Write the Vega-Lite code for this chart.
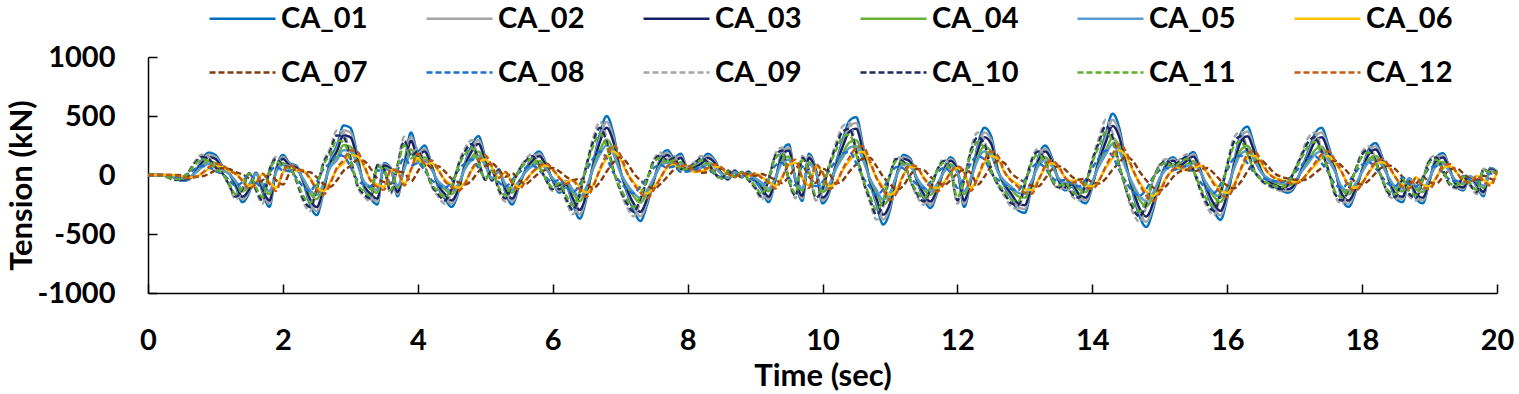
{
"$schema":"https://vega.github.io/schema/vega-lite/v6.json",
"autosize":{"type":"none"},
"width":1349,"height":236,
"padding":{"left":148,"top":57,"right":22,"bottom":101},
"background":"white",
"config":{"view":{"stroke":null}},
"data":{"values":[
{"t":0,"CA_01":0,"CA_02":0,"CA_03":0,"CA_04":0,"CA_05":0,"CA_06":0,"CA_07":0,"CA_08":0,"CA_09":0,"CA_10":0,"CA_11":0,"CA_12":0},
{"t":0.1,"CA_01":0,"CA_02":0,"CA_03":0,"CA_04":0,"CA_05":0,"CA_06":0,"CA_07":0,"CA_08":0,"CA_09":0,"CA_10":0,"CA_11":0,"CA_12":0},
{"t":0.2,"CA_01":0,"CA_02":0,"CA_03":0,"CA_04":0,"CA_05":0,"CA_06":0,"CA_07":0,"CA_08":-2,"CA_09":-5,"CA_10":-4,"CA_11":-4,"CA_12":0},
{"t":0.3,"CA_01":-5,"CA_02":-5,"CA_03":-4,"CA_04":-3,"CA_05":-3,"CA_06":0,"CA_07":0,"CA_08":-10,"CA_09":-23,"CA_10":-20,"CA_11":-18,"CA_12":0},
{"t":0.4,"CA_01":-25,"CA_02":-23,"CA_03":-20,"CA_04":-15,"CA_05":-13,"CA_06":-2,"CA_07":0,"CA_08":-20,"CA_09":-45,"CA_10":-40,"CA_11":-35,"CA_12":-3},
{"t":0.5,"CA_01":-50,"CA_02":-45,"CA_03":-40,"CA_04":-30,"CA_05":-25,"CA_06":-10,"CA_07":-2,"CA_08":-16,"CA_09":-36,"CA_10":-32,"CA_11":-28,"CA_12":-13},
{"t":0.6,"CA_01":-40,"CA_02":-36,"CA_03":-32,"CA_04":-24,"CA_05":-20,"CA_06":-20,"CA_07":-8,"CA_08":12,"CA_09":27,"CA_10":24,"CA_11":21,"CA_12":-25},
{"t":0.7,"CA_01":30,"CA_02":27,"CA_03":24,"CA_04":18,"CA_05":15,"CA_06":-16,"CA_07":-15,"CA_08":52,"CA_09":117,"CA_10":104,"CA_11":91,"CA_12":-20},
{"t":0.8,"CA_01":130,"CA_02":117,"CA_03":104,"CA_04":78,"CA_05":65,"CA_06":12,"CA_07":-12,"CA_08":76,"CA_09":171,"CA_10":152,"CA_11":133,"CA_12":15},
{"t":0.9,"CA_01":190,"CA_02":171,"CA_03":152,"CA_04":114,"CA_05":95,"CA_06":52,"CA_07":9,"CA_08":68,"CA_09":153,"CA_10":136,"CA_11":119,"CA_12":65},
{"t":1,"CA_01":170,"CA_02":153,"CA_03":136,"CA_04":102,"CA_05":85,"CA_06":76,"CA_07":39,"CA_08":32,"CA_09":72,"CA_10":64,"CA_11":56,"CA_12":95},
{"t":1.1,"CA_01":80,"CA_02":72,"CA_03":64,"CA_04":48,"CA_05":40,"CA_06":68,"CA_07":57,"CA_08":8,"CA_09":18,"CA_10":16,"CA_11":14,"CA_12":85},
{"t":1.2,"CA_01":20,"CA_02":18,"CA_03":16,"CA_04":12,"CA_05":10,"CA_06":32,"CA_07":51,"CA_08":-40,"CA_09":-90,"CA_10":-80,"CA_11":-70,"CA_12":40},
{"t":1.3,"CA_01":-100,"CA_02":-90,"CA_03":-80,"CA_04":-60,"CA_05":-50,"CA_06":8,"CA_07":24,"CA_08":-92,"CA_09":-207,"CA_10":-184,"CA_11":-161,"CA_12":10},
{"t":1.4,"CA_01":-230,"CA_02":-207,"CA_03":-184,"CA_04":-138,"CA_05":-115,"CA_06":-40,"CA_07":6,"CA_08":-60,"CA_09":-135,"CA_10":-120,"CA_11":-105,"CA_12":-50},
{"t":1.5,"CA_01":-150,"CA_02":-135,"CA_03":-120,"CA_04":-90,"CA_05":-75,"CA_06":-92,"CA_07":-30,"CA_08":8,"CA_09":18,"CA_10":16,"CA_11":14,"CA_12":-115},
{"t":1.6,"CA_01":20,"CA_02":18,"CA_03":16,"CA_04":12,"CA_05":10,"CA_06":-60,"CA_07":-69,"CA_08":-60,"CA_09":-135,"CA_10":-120,"CA_11":-105,"CA_12":-75},
{"t":1.7,"CA_01":-150,"CA_02":-135,"CA_03":-120,"CA_04":-90,"CA_05":-75,"CA_06":8,"CA_07":-45,"CA_08":-108,"CA_09":-243,"CA_10":-216,"CA_11":-189,"CA_12":10},
{"t":1.8,"CA_01":-270,"CA_02":-243,"CA_03":-216,"CA_04":-162,"CA_05":-135,"CA_06":-60,"CA_07":6,"CA_08":20,"CA_09":45,"CA_10":40,"CA_11":35,"CA_12":-75},
{"t":1.9,"CA_01":50,"CA_02":45,"CA_03":40,"CA_04":30,"CA_05":25,"CA_06":-108,"CA_07":-45,"CA_08":68,"CA_09":153,"CA_10":136,"CA_11":119,"CA_12":-135},
{"t":2,"CA_01":170,"CA_02":153,"CA_03":136,"CA_04":102,"CA_05":85,"CA_06":20,"CA_07":-81,"CA_08":40,"CA_09":90,"CA_10":80,"CA_11":70,"CA_12":25},
{"t":2.1,"CA_01":100,"CA_02":90,"CA_03":80,"CA_04":60,"CA_05":50,"CA_06":68,"CA_07":15,"CA_08":32,"CA_09":72,"CA_10":64,"CA_11":56,"CA_12":85},
{"t":2.2,"CA_01":80,"CA_02":72,"CA_03":64,"CA_04":48,"CA_05":40,"CA_06":40,"CA_07":51,"CA_08":-24,"CA_09":-54,"CA_10":-48,"CA_11":-42,"CA_12":50},
{"t":2.3,"CA_01":-60,"CA_02":-54,"CA_03":-48,"CA_04":-36,"CA_05":-30,"CA_06":32,"CA_07":30,"CA_08":-100,"CA_09":-225,"CA_10":-200,"CA_11":-175,"CA_12":40},
{"t":2.4,"CA_01":-250,"CA_02":-225,"CA_03":-200,"CA_04":-150,"CA_05":-125,"CA_06":-24,"CA_07":24,"CA_08":-136,"CA_09":-306,"CA_10":-272,"CA_11":-238,"CA_12":-30},
{"t":2.5,"CA_01":-340,"CA_02":-306,"CA_03":-272,"CA_04":-204,"CA_05":-170,"CA_06":-100,"CA_07":-18,"CA_08":-60,"CA_09":-135,"CA_10":-120,"CA_11":-105,"CA_12":-125},
{"t":2.6,"CA_01":-150,"CA_02":-135,"CA_03":-120,"CA_04":-90,"CA_05":-75,"CA_06":-136,"CA_07":-75,"CA_08":48,"CA_09":108,"CA_10":96,"CA_11":84,"CA_12":-170},
{"t":2.7,"CA_01":120,"CA_02":108,"CA_03":96,"CA_04":72,"CA_05":60,"CA_06":-60,"CA_07":-102,"CA_08":100,"CA_09":225,"CA_10":200,"CA_11":175,"CA_12":-75},
{"t":2.8,"CA_01":250,"CA_02":225,"CA_03":200,"CA_04":150,"CA_05":125,"CA_06":48,"CA_07":-45,"CA_08":168,"CA_09":378,"CA_10":336,"CA_11":294,"CA_12":60},
{"t":2.9,"CA_01":420,"CA_02":378,"CA_03":336,"CA_04":252,"CA_05":210,"CA_06":100,"CA_07":36,"CA_08":160,"CA_09":360,"CA_10":320,"CA_11":280,"CA_12":125},
{"t":3,"CA_01":400,"CA_02":360,"CA_03":320,"CA_04":240,"CA_05":200,"CA_06":168,"CA_07":75,"CA_08":72,"CA_09":162,"CA_10":144,"CA_11":126,"CA_12":210},
{"t":3.1,"CA_01":180,"CA_02":162,"CA_03":144,"CA_04":108,"CA_05":90,"CA_06":160,"CA_07":126,"CA_08":-40,"CA_09":-90,"CA_10":-80,"CA_11":-70,"CA_12":200},
{"t":3.2,"CA_01":-100,"CA_02":-90,"CA_03":-80,"CA_04":-60,"CA_05":-50,"CA_06":72,"CA_07":120,"CA_08":-80,"CA_09":-180,"CA_10":-160,"CA_11":-140,"CA_12":90},
{"t":3.3,"CA_01":-200,"CA_02":-180,"CA_03":-160,"CA_04":-120,"CA_05":-100,"CA_06":-40,"CA_07":54,"CA_08":-100,"CA_09":-225,"CA_10":-200,"CA_11":-175,"CA_12":-50},
{"t":3.4,"CA_01":-250,"CA_02":-225,"CA_03":-200,"CA_04":-150,"CA_05":-125,"CA_06":-80,"CA_07":-30,"CA_08":40,"CA_09":90,"CA_10":80,"CA_11":70,"CA_12":-100},
{"t":3.5,"CA_01":100,"CA_02":90,"CA_03":80,"CA_04":60,"CA_05":50,"CA_06":-100,"CA_07":-60,"CA_08":24,"CA_09":54,"CA_10":48,"CA_11":42,"CA_12":-125},
{"t":3.6,"CA_01":60,"CA_02":54,"CA_03":48,"CA_04":36,"CA_05":30,"CA_06":40,"CA_07":-75,"CA_08":-72,"CA_09":-162,"CA_10":-144,"CA_11":-126,"CA_12":50},
{"t":3.7,"CA_01":-180,"CA_02":-162,"CA_03":-144,"CA_04":-108,"CA_05":-90,"CA_06":24,"CA_07":30,"CA_08":40,"CA_09":90,"CA_10":80,"CA_11":70,"CA_12":30},
{"t":3.8,"CA_01":100,"CA_02":90,"CA_03":80,"CA_04":60,"CA_05":50,"CA_06":-72,"CA_07":18,"CA_08":144,"CA_09":324,"CA_10":288,"CA_11":252,"CA_12":-90},
{"t":3.9,"CA_01":360,"CA_02":324,"CA_03":288,"CA_04":216,"CA_05":180,"CA_06":40,"CA_07":-54,"CA_08":80,"CA_09":180,"CA_10":160,"CA_11":140,"CA_12":50},
{"t":4,"CA_01":200,"CA_02":180,"CA_03":160,"CA_04":120,"CA_05":100,"CA_06":144,"CA_07":30,"CA_08":100,"CA_09":225,"CA_10":200,"CA_11":175,"CA_12":180},
{"t":4.1,"CA_01":250,"CA_02":225,"CA_03":200,"CA_04":150,"CA_05":125,"CA_06":80,"CA_07":108,"CA_08":40,"CA_09":90,"CA_10":80,"CA_11":70,"CA_12":100},
{"t":4.2,"CA_01":100,"CA_02":90,"CA_03":80,"CA_04":60,"CA_05":50,"CA_06":100,"CA_07":60,"CA_08":-40,"CA_09":-90,"CA_10":-80,"CA_11":-70,"CA_12":125},
{"t":4.3,"CA_01":-100,"CA_02":-90,"CA_03":-80,"CA_04":-60,"CA_05":-50,"CA_06":40,"CA_07":75,"CA_08":-80,"CA_09":-180,"CA_10":-160,"CA_11":-140,"CA_12":50},
{"t":4.4,"CA_01":-200,"CA_02":-180,"CA_03":-160,"CA_04":-120,"CA_05":-100,"CA_06":-40,"CA_07":30,"CA_08":-108,"CA_09":-243,"CA_10":-216,"CA_11":-189,"CA_12":-50},
{"t":4.5,"CA_01":-270,"CA_02":-243,"CA_03":-216,"CA_04":-162,"CA_05":-135,"CA_06":-80,"CA_07":-30,"CA_08":-60,"CA_09":-135,"CA_10":-120,"CA_11":-105,"CA_12":-100},
{"t":4.6,"CA_01":-150,"CA_02":-135,"CA_03":-120,"CA_04":-90,"CA_05":-75,"CA_06":-108,"CA_07":-60,"CA_08":40,"CA_09":90,"CA_10":80,"CA_11":70,"CA_12":-135},
{"t":4.7,"CA_01":100,"CA_02":90,"CA_03":80,"CA_04":60,"CA_05":50,"CA_06":-60,"CA_07":-81,"CA_08":100,"CA_09":225,"CA_10":200,"CA_11":175,"CA_12":-75},
{"t":4.8,"CA_01":250,"CA_02":225,"CA_03":200,"CA_04":150,"CA_05":125,"CA_06":40,"CA_07":-45,"CA_08":132,"CA_09":297,"CA_10":264,"CA_11":231,"CA_12":50},
{"t":4.9,"CA_01":330,"CA_02":297,"CA_03":264,"CA_04":198,"CA_05":165,"CA_06":100,"CA_07":30,"CA_08":60,"CA_09":135,"CA_10":120,"CA_11":105,"CA_12":125},
{"t":5,"CA_01":150,"CA_02":135,"CA_03":120,"CA_04":90,"CA_05":75,"CA_06":132,"CA_07":75,"CA_08":-20,"CA_09":-45,"CA_10":-40,"CA_11":-35,"CA_12":165},
{"t":5.1,"CA_01":-50,"CA_02":-45,"CA_03":-40,"CA_04":-30,"CA_05":-25,"CA_06":60,"CA_07":99,"CA_08":20,"CA_09":45,"CA_10":40,"CA_11":35,"CA_12":75},
{"t":5.2,"CA_01":50,"CA_02":45,"CA_03":40,"CA_04":30,"CA_05":25,"CA_06":-20,"CA_07":45,"CA_08":-60,"CA_09":-135,"CA_10":-120,"CA_11":-105,"CA_12":-25},
{"t":5.3,"CA_01":-150,"CA_02":-135,"CA_03":-120,"CA_04":-90,"CA_05":-75,"CA_06":20,"CA_07":-15,"CA_08":-100,"CA_09":-225,"CA_10":-200,"CA_11":-175,"CA_12":25},
{"t":5.4,"CA_01":-250,"CA_02":-225,"CA_03":-200,"CA_04":-150,"CA_05":-125,"CA_06":-60,"CA_07":15,"CA_08":-40,"CA_09":-90,"CA_10":-80,"CA_11":-70,"CA_12":-75},
{"t":5.5,"CA_01":-100,"CA_02":-90,"CA_03":-80,"CA_04":-60,"CA_05":-50,"CA_06":-100,"CA_07":-45,"CA_08":20,"CA_09":45,"CA_10":40,"CA_11":35,"CA_12":-125},
{"t":5.6,"CA_01":50,"CA_02":45,"CA_03":40,"CA_04":30,"CA_05":25,"CA_06":-40,"CA_07":-75,"CA_08":60,"CA_09":135,"CA_10":120,"CA_11":105,"CA_12":-50},
{"t":5.7,"CA_01":150,"CA_02":135,"CA_03":120,"CA_04":90,"CA_05":75,"CA_06":20,"CA_07":-30,"CA_08":80,"CA_09":180,"CA_10":160,"CA_11":140,"CA_12":25},
{"t":5.8,"CA_01":200,"CA_02":180,"CA_03":160,"CA_04":120,"CA_05":100,"CA_06":60,"CA_07":15,"CA_08":40,"CA_09":90,"CA_10":80,"CA_11":70,"CA_12":75},
{"t":5.9,"CA_01":100,"CA_02":90,"CA_03":80,"CA_04":60,"CA_05":50,"CA_06":80,"CA_07":45,"CA_08":-20,"CA_09":-45,"CA_10":-40,"CA_11":-35,"CA_12":100},
{"t":6,"CA_01":-50,"CA_02":-45,"CA_03":-40,"CA_04":-30,"CA_05":-25,"CA_06":40,"CA_07":60,"CA_08":-60,"CA_09":-135,"CA_10":-120,"CA_11":-105,"CA_12":50},
{"t":6.1,"CA_01":-150,"CA_02":-135,"CA_03":-120,"CA_04":-90,"CA_05":-75,"CA_06":-20,"CA_07":30,"CA_08":-40,"CA_09":-90,"CA_10":-80,"CA_11":-70,"CA_12":-25},
{"t":6.2,"CA_01":-100,"CA_02":-90,"CA_03":-80,"CA_04":-60,"CA_05":-50,"CA_06":-60,"CA_07":-15,"CA_08":-100,"CA_09":-225,"CA_10":-200,"CA_11":-175,"CA_12":-75},
{"t":6.3,"CA_01":-250,"CA_02":-225,"CA_03":-200,"CA_04":-150,"CA_05":-125,"CA_06":-40,"CA_07":-45,"CA_08":-148,"CA_09":-333,"CA_10":-296,"CA_11":-259,"CA_12":-50},
{"t":6.4,"CA_01":-370,"CA_02":-333,"CA_03":-296,"CA_04":-222,"CA_05":-185,"CA_06":-100,"CA_07":-30,"CA_08":-80,"CA_09":-180,"CA_10":-160,"CA_11":-140,"CA_12":-125},
{"t":6.5,"CA_01":-200,"CA_02":-180,"CA_03":-160,"CA_04":-120,"CA_05":-100,"CA_06":-148,"CA_07":-75,"CA_08":40,"CA_09":90,"CA_10":80,"CA_11":70,"CA_12":-185},
{"t":6.6,"CA_01":100,"CA_02":90,"CA_03":80,"CA_04":60,"CA_05":50,"CA_06":-80,"CA_07":-111,"CA_08":140,"CA_09":315,"CA_10":280,"CA_11":245,"CA_12":-100},
{"t":6.7,"CA_01":350,"CA_02":315,"CA_03":280,"CA_04":210,"CA_05":175,"CA_06":40,"CA_07":-60,"CA_08":200,"CA_09":450,"CA_10":400,"CA_11":350,"CA_12":50},
{"t":6.8,"CA_01":500,"CA_02":450,"CA_03":400,"CA_04":300,"CA_05":250,"CA_06":140,"CA_07":30,"CA_08":140,"CA_09":315,"CA_10":280,"CA_11":245,"CA_12":175},
{"t":6.9,"CA_01":350,"CA_02":315,"CA_03":280,"CA_04":210,"CA_05":175,"CA_06":200,"CA_07":105,"CA_08":20,"CA_09":45,"CA_10":40,"CA_11":35,"CA_12":250},
{"t":7,"CA_01":50,"CA_02":45,"CA_03":40,"CA_04":30,"CA_05":25,"CA_06":140,"CA_07":150,"CA_08":-60,"CA_09":-135,"CA_10":-120,"CA_11":-105,"CA_12":175},
{"t":7.1,"CA_01":-150,"CA_02":-135,"CA_03":-120,"CA_04":-90,"CA_05":-75,"CA_06":20,"CA_07":105,"CA_08":-120,"CA_09":-270,"CA_10":-240,"CA_11":-210,"CA_12":25},
{"t":7.2,"CA_01":-300,"CA_02":-270,"CA_03":-240,"CA_04":-180,"CA_05":-150,"CA_06":-60,"CA_07":15,"CA_08":-156,"CA_09":-351,"CA_10":-312,"CA_11":-273,"CA_12":-75},
{"t":7.3,"CA_01":-390,"CA_02":-351,"CA_03":-312,"CA_04":-234,"CA_05":-195,"CA_06":-120,"CA_07":-45,"CA_08":-100,"CA_09":-225,"CA_10":-200,"CA_11":-175,"CA_12":-150},
{"t":7.4,"CA_01":-250,"CA_02":-225,"CA_03":-200,"CA_04":-150,"CA_05":-125,"CA_06":-156,"CA_07":-90,"CA_08":-20,"CA_09":-45,"CA_10":-40,"CA_11":-35,"CA_12":-195},
{"t":7.5,"CA_01":-50,"CA_02":-45,"CA_03":-40,"CA_04":-30,"CA_05":-25,"CA_06":-100,"CA_07":-117,"CA_08":60,"CA_09":135,"CA_10":120,"CA_11":105,"CA_12":-125},
{"t":7.6,"CA_01":150,"CA_02":135,"CA_03":120,"CA_04":90,"CA_05":75,"CA_06":-20,"CA_07":-75,"CA_08":84,"CA_09":189,"CA_10":168,"CA_11":147,"CA_12":-25},
{"t":7.7,"CA_01":210,"CA_02":189,"CA_03":168,"CA_04":126,"CA_05":105,"CA_06":60,"CA_07":-15,"CA_08":60,"CA_09":135,"CA_10":120,"CA_11":105,"CA_12":75},
{"t":7.8,"CA_01":150,"CA_02":135,"CA_03":120,"CA_04":90,"CA_05":75,"CA_06":84,"CA_07":45,"CA_08":72,"CA_09":162,"CA_10":144,"CA_11":126,"CA_12":105},
{"t":7.9,"CA_01":180,"CA_02":162,"CA_03":144,"CA_04":108,"CA_05":90,"CA_06":60,"CA_07":63,"CA_08":24,"CA_09":54,"CA_10":48,"CA_11":42,"CA_12":75},
{"t":8,"CA_01":60,"CA_02":54,"CA_03":48,"CA_04":36,"CA_05":30,"CA_06":72,"CA_07":45,"CA_08":32,"CA_09":72,"CA_10":64,"CA_11":56,"CA_12":90},
{"t":8.1,"CA_01":80,"CA_02":72,"CA_03":64,"CA_04":48,"CA_05":40,"CA_06":24,"CA_07":54,"CA_08":48,"CA_09":108,"CA_10":96,"CA_11":84,"CA_12":30},
{"t":8.2,"CA_01":120,"CA_02":108,"CA_03":96,"CA_04":72,"CA_05":60,"CA_06":32,"CA_07":18,"CA_08":72,"CA_09":162,"CA_10":144,"CA_11":126,"CA_12":40},
{"t":8.3,"CA_01":180,"CA_02":162,"CA_03":144,"CA_04":108,"CA_05":90,"CA_06":48,"CA_07":24,"CA_08":52,"CA_09":117,"CA_10":104,"CA_11":91,"CA_12":60},
{"t":8.4,"CA_01":130,"CA_02":117,"CA_03":104,"CA_04":78,"CA_05":65,"CA_06":72,"CA_07":36,"CA_08":8,"CA_09":18,"CA_10":16,"CA_11":14,"CA_12":90},
{"t":8.5,"CA_01":20,"CA_02":18,"CA_03":16,"CA_04":12,"CA_05":10,"CA_06":52,"CA_07":54,"CA_08":-16,"CA_09":-36,"CA_10":-32,"CA_11":-28,"CA_12":65},
{"t":8.6,"CA_01":-40,"CA_02":-36,"CA_03":-32,"CA_04":-24,"CA_05":-20,"CA_06":8,"CA_07":39,"CA_08":16,"CA_09":36,"CA_10":32,"CA_11":28,"CA_12":10},
{"t":8.7,"CA_01":40,"CA_02":36,"CA_03":32,"CA_04":24,"CA_05":20,"CA_06":-16,"CA_07":6,"CA_08":-8,"CA_09":-18,"CA_10":-16,"CA_11":-14,"CA_12":-20},
{"t":8.8,"CA_01":-20,"CA_02":-18,"CA_03":-16,"CA_04":-12,"CA_05":-10,"CA_06":16,"CA_07":-12,"CA_08":12,"CA_09":27,"CA_10":24,"CA_11":21,"CA_12":20},
{"t":8.9,"CA_01":30,"CA_02":27,"CA_03":24,"CA_04":18,"CA_05":15,"CA_06":-8,"CA_07":12,"CA_08":-20,"CA_09":-45,"CA_10":-40,"CA_11":-35,"CA_12":-10},
{"t":9,"CA_01":-50,"CA_02":-45,"CA_03":-40,"CA_04":-30,"CA_05":-25,"CA_06":12,"CA_07":-6,"CA_08":-52,"CA_09":-117,"CA_10":-104,"CA_11":-91,"CA_12":15},
{"t":9.1,"CA_01":-130,"CA_02":-117,"CA_03":-104,"CA_04":-78,"CA_05":-65,"CA_06":-20,"CA_07":9,"CA_08":-92,"CA_09":-207,"CA_10":-184,"CA_11":-161,"CA_12":-25},
{"t":9.2,"CA_01":-230,"CA_02":-207,"CA_03":-184,"CA_04":-138,"CA_05":-115,"CA_06":-52,"CA_07":-15,"CA_08":-20,"CA_09":-45,"CA_10":-40,"CA_11":-35,"CA_12":-65},
{"t":9.3,"CA_01":-50,"CA_02":-45,"CA_03":-40,"CA_04":-30,"CA_05":-25,"CA_06":-92,"CA_07":-39,"CA_08":80,"CA_09":180,"CA_10":160,"CA_11":140,"CA_12":-115},
{"t":9.4,"CA_01":200,"CA_02":180,"CA_03":160,"CA_04":120,"CA_05":100,"CA_06":-20,"CA_07":-69,"CA_08":104,"CA_09":234,"CA_10":208,"CA_11":182,"CA_12":-25},
{"t":9.5,"CA_01":260,"CA_02":234,"CA_03":208,"CA_04":156,"CA_05":130,"CA_06":80,"CA_07":-15,"CA_08":-20,"CA_09":-45,"CA_10":-40,"CA_11":-35,"CA_12":100},
{"t":9.6,"CA_01":-50,"CA_02":-45,"CA_03":-40,"CA_04":-30,"CA_05":-25,"CA_06":104,"CA_07":60,"CA_08":-88,"CA_09":-198,"CA_10":-176,"CA_11":-154,"CA_12":130},
{"t":9.7,"CA_01":-220,"CA_02":-198,"CA_03":-176,"CA_04":-132,"CA_05":-110,"CA_06":-20,"CA_07":78,"CA_08":72,"CA_09":162,"CA_10":144,"CA_11":126,"CA_12":-25},
{"t":9.8,"CA_01":180,"CA_02":162,"CA_03":144,"CA_04":108,"CA_05":90,"CA_06":-88,"CA_07":-15,"CA_08":20,"CA_09":45,"CA_10":40,"CA_11":35,"CA_12":-110},
{"t":9.9,"CA_01":50,"CA_02":45,"CA_03":40,"CA_04":30,"CA_05":25,"CA_06":72,"CA_07":-66,"CA_08":-96,"CA_09":-216,"CA_10":-192,"CA_11":-168,"CA_12":90},
{"t":10,"CA_01":-240,"CA_02":-216,"CA_03":-192,"CA_04":-144,"CA_05":-120,"CA_06":20,"CA_07":54,"CA_08":-60,"CA_09":-135,"CA_10":-120,"CA_11":-105,"CA_12":25},
{"t":10.1,"CA_01":-150,"CA_02":-135,"CA_03":-120,"CA_04":-90,"CA_05":-75,"CA_06":-96,"CA_07":15,"CA_08":40,"CA_09":90,"CA_10":80,"CA_11":70,"CA_12":-120},
{"t":10.2,"CA_01":100,"CA_02":90,"CA_03":80,"CA_04":60,"CA_05":50,"CA_06":-60,"CA_07":-72,"CA_08":120,"CA_09":270,"CA_10":240,"CA_11":210,"CA_12":-75},
{"t":10.3,"CA_01":300,"CA_02":270,"CA_03":240,"CA_04":180,"CA_05":150,"CA_06":40,"CA_07":-45,"CA_08":184,"CA_09":414,"CA_10":368,"CA_11":322,"CA_12":50},
{"t":10.4,"CA_01":460,"CA_02":414,"CA_03":368,"CA_04":276,"CA_05":230,"CA_06":120,"CA_07":30,"CA_08":196,"CA_09":441,"CA_10":392,"CA_11":343,"CA_12":150},
{"t":10.5,"CA_01":490,"CA_02":441,"CA_03":392,"CA_04":294,"CA_05":245,"CA_06":184,"CA_07":90,"CA_08":100,"CA_09":225,"CA_10":200,"CA_11":175,"CA_12":230},
{"t":10.6,"CA_01":250,"CA_02":225,"CA_03":200,"CA_04":150,"CA_05":125,"CA_06":196,"CA_07":138,"CA_08":-20,"CA_09":-45,"CA_10":-40,"CA_11":-35,"CA_12":245},
{"t":10.7,"CA_01":-50,"CA_02":-45,"CA_03":-40,"CA_04":-30,"CA_05":-25,"CA_06":100,"CA_07":147,"CA_08":-100,"CA_09":-225,"CA_10":-200,"CA_11":-175,"CA_12":125},
{"t":10.8,"CA_01":-250,"CA_02":-225,"CA_03":-200,"CA_04":-150,"CA_05":-125,"CA_06":-20,"CA_07":75,"CA_08":-168,"CA_09":-378,"CA_10":-336,"CA_11":-294,"CA_12":-25},
{"t":10.9,"CA_01":-420,"CA_02":-378,"CA_03":-336,"CA_04":-252,"CA_05":-210,"CA_06":-100,"CA_07":-15,"CA_08":-120,"CA_09":-270,"CA_10":-240,"CA_11":-210,"CA_12":-125},
{"t":11,"CA_01":-300,"CA_02":-270,"CA_03":-240,"CA_04":-180,"CA_05":-150,"CA_06":-168,"CA_07":-75,"CA_08":0,"CA_09":0,"CA_10":0,"CA_11":0,"CA_12":-210},
{"t":11.1,"CA_01":0,"CA_02":0,"CA_03":0,"CA_04":0,"CA_05":0,"CA_06":-120,"CA_07":-126,"CA_08":68,"CA_09":153,"CA_10":136,"CA_11":119,"CA_12":-150},
{"t":11.2,"CA_01":170,"CA_02":153,"CA_03":136,"CA_04":102,"CA_05":85,"CA_06":0,"CA_07":-90,"CA_08":56,"CA_09":126,"CA_10":112,"CA_11":98,"CA_12":0},
{"t":11.3,"CA_01":140,"CA_02":126,"CA_03":112,"CA_04":84,"CA_05":70,"CA_06":68,"CA_07":0,"CA_08":-20,"CA_09":-45,"CA_10":-40,"CA_11":-35,"CA_12":85},
{"t":11.4,"CA_01":-50,"CA_02":-45,"CA_03":-40,"CA_04":-30,"CA_05":-25,"CA_06":56,"CA_07":51,"CA_08":-80,"CA_09":-180,"CA_10":-160,"CA_11":-140,"CA_12":70},
{"t":11.5,"CA_01":-200,"CA_02":-180,"CA_03":-160,"CA_04":-120,"CA_05":-100,"CA_06":-20,"CA_07":42,"CA_08":-112,"CA_09":-252,"CA_10":-224,"CA_11":-196,"CA_12":-25},
{"t":11.6,"CA_01":-280,"CA_02":-252,"CA_03":-224,"CA_04":-168,"CA_05":-140,"CA_06":-80,"CA_07":-15,"CA_08":-60,"CA_09":-135,"CA_10":-120,"CA_11":-105,"CA_12":-100},
{"t":11.7,"CA_01":-150,"CA_02":-135,"CA_03":-120,"CA_04":-90,"CA_05":-75,"CA_06":-112,"CA_07":-60,"CA_08":20,"CA_09":45,"CA_10":40,"CA_11":35,"CA_12":-140},
{"t":11.8,"CA_01":50,"CA_02":45,"CA_03":40,"CA_04":30,"CA_05":25,"CA_06":-60,"CA_07":-84,"CA_08":60,"CA_09":135,"CA_10":120,"CA_11":105,"CA_12":-75},
{"t":11.9,"CA_01":150,"CA_02":135,"CA_03":120,"CA_04":90,"CA_05":75,"CA_06":20,"CA_07":-45,"CA_08":20,"CA_09":45,"CA_10":40,"CA_11":35,"CA_12":25},
{"t":12,"CA_01":50,"CA_02":45,"CA_03":40,"CA_04":30,"CA_05":25,"CA_06":60,"CA_07":15,"CA_08":-108,"CA_09":-243,"CA_10":-216,"CA_11":-189,"CA_12":75},
{"t":12.1,"CA_01":-270,"CA_02":-243,"CA_03":-216,"CA_04":-162,"CA_05":-135,"CA_06":20,"CA_07":45,"CA_08":-20,"CA_09":-45,"CA_10":-40,"CA_11":-35,"CA_12":25},
{"t":12.2,"CA_01":-50,"CA_02":-45,"CA_03":-40,"CA_04":-30,"CA_05":-25,"CA_06":-108,"CA_07":15,"CA_08":100,"CA_09":225,"CA_10":200,"CA_11":175,"CA_12":-135},
{"t":12.3,"CA_01":250,"CA_02":225,"CA_03":200,"CA_04":150,"CA_05":125,"CA_06":-20,"CA_07":-81,"CA_08":160,"CA_09":360,"CA_10":320,"CA_11":280,"CA_12":-25},
{"t":12.4,"CA_01":400,"CA_02":360,"CA_03":320,"CA_04":240,"CA_05":200,"CA_06":100,"CA_07":-15,"CA_08":132,"CA_09":297,"CA_10":264,"CA_11":231,"CA_12":125},
{"t":12.5,"CA_01":330,"CA_02":297,"CA_03":264,"CA_04":198,"CA_05":165,"CA_06":160,"CA_07":75,"CA_08":20,"CA_09":45,"CA_10":40,"CA_11":35,"CA_12":200},
{"t":12.6,"CA_01":50,"CA_02":45,"CA_03":40,"CA_04":30,"CA_05":25,"CA_06":132,"CA_07":120,"CA_08":-40,"CA_09":-90,"CA_10":-80,"CA_11":-70,"CA_12":165},
{"t":12.7,"CA_01":-100,"CA_02":-90,"CA_03":-80,"CA_04":-60,"CA_05":-50,"CA_06":20,"CA_07":99,"CA_08":-80,"CA_09":-180,"CA_10":-160,"CA_11":-140,"CA_12":25},
{"t":12.8,"CA_01":-200,"CA_02":-180,"CA_03":-160,"CA_04":-120,"CA_05":-100,"CA_06":-40,"CA_07":15,"CA_08":-120,"CA_09":-270,"CA_10":-240,"CA_11":-210,"CA_12":-50},
{"t":12.9,"CA_01":-300,"CA_02":-270,"CA_03":-240,"CA_04":-180,"CA_05":-150,"CA_06":-80,"CA_07":-30,"CA_08":-128,"CA_09":-288,"CA_10":-256,"CA_11":-224,"CA_12":-100},
{"t":13,"CA_01":-320,"CA_02":-288,"CA_03":-256,"CA_04":-192,"CA_05":-160,"CA_06":-120,"CA_07":-60,"CA_08":-40,"CA_09":-90,"CA_10":-80,"CA_11":-70,"CA_12":-150},
{"t":13.1,"CA_01":-100,"CA_02":-90,"CA_03":-80,"CA_04":-60,"CA_05":-50,"CA_06":-128,"CA_07":-90,"CA_08":60,"CA_09":135,"CA_10":120,"CA_11":105,"CA_12":-160},
{"t":13.2,"CA_01":150,"CA_02":135,"CA_03":120,"CA_04":90,"CA_05":75,"CA_06":-40,"CA_07":-96,"CA_08":100,"CA_09":225,"CA_10":200,"CA_11":175,"CA_12":-50},
{"t":13.3,"CA_01":250,"CA_02":225,"CA_03":200,"CA_04":150,"CA_05":125,"CA_06":60,"CA_07":-30,"CA_08":60,"CA_09":135,"CA_10":120,"CA_11":105,"CA_12":75},
{"t":13.4,"CA_01":150,"CA_02":135,"CA_03":120,"CA_04":90,"CA_05":75,"CA_06":100,"CA_07":45,"CA_08":-20,"CA_09":-45,"CA_10":-40,"CA_11":-35,"CA_12":125},
{"t":13.5,"CA_01":-50,"CA_02":-45,"CA_03":-40,"CA_04":-30,"CA_05":-25,"CA_06":60,"CA_07":75,"CA_08":-52,"CA_09":-117,"CA_10":-104,"CA_11":-91,"CA_12":75},
{"t":13.6,"CA_01":-130,"CA_02":-117,"CA_03":-104,"CA_04":-78,"CA_05":-65,"CA_06":-20,"CA_07":45,"CA_08":-40,"CA_09":-90,"CA_10":-80,"CA_11":-70,"CA_12":-25},
{"t":13.7,"CA_01":-100,"CA_02":-90,"CA_03":-80,"CA_04":-60,"CA_05":-50,"CA_06":-52,"CA_07":-15,"CA_08":-80,"CA_09":-180,"CA_10":-160,"CA_11":-140,"CA_12":-65},
{"t":13.8,"CA_01":-200,"CA_02":-180,"CA_03":-160,"CA_04":-120,"CA_05":-100,"CA_06":-40,"CA_07":-39,"CA_08":-96,"CA_09":-216,"CA_10":-192,"CA_11":-168,"CA_12":-50},
{"t":13.9,"CA_01":-240,"CA_02":-216,"CA_03":-192,"CA_04":-144,"CA_05":-120,"CA_06":-80,"CA_07":-30,"CA_08":-40,"CA_09":-90,"CA_10":-80,"CA_11":-70,"CA_12":-100},
{"t":14,"CA_01":-100,"CA_02":-90,"CA_03":-80,"CA_04":-60,"CA_05":-50,"CA_06":-96,"CA_07":-60,"CA_08":60,"CA_09":135,"CA_10":120,"CA_11":105,"CA_12":-120},
{"t":14.1,"CA_01":150,"CA_02":135,"CA_03":120,"CA_04":90,"CA_05":75,"CA_06":-40,"CA_07":-72,"CA_08":140,"CA_09":315,"CA_10":280,"CA_11":245,"CA_12":-50},
{"t":14.2,"CA_01":350,"CA_02":315,"CA_03":280,"CA_04":210,"CA_05":175,"CA_06":60,"CA_07":-30,"CA_08":208,"CA_09":468,"CA_10":416,"CA_11":364,"CA_12":75},
{"t":14.3,"CA_01":520,"CA_02":468,"CA_03":416,"CA_04":312,"CA_05":260,"CA_06":140,"CA_07":45,"CA_08":160,"CA_09":360,"CA_10":320,"CA_11":280,"CA_12":175},
{"t":14.4,"CA_01":400,"CA_02":360,"CA_03":320,"CA_04":240,"CA_05":200,"CA_06":208,"CA_07":105,"CA_08":40,"CA_09":90,"CA_10":80,"CA_11":70,"CA_12":260},
{"t":14.5,"CA_01":100,"CA_02":90,"CA_03":80,"CA_04":60,"CA_05":50,"CA_06":160,"CA_07":156,"CA_08":-60,"CA_09":-135,"CA_10":-120,"CA_11":-105,"CA_12":200},
{"t":14.6,"CA_01":-150,"CA_02":-135,"CA_03":-120,"CA_04":-90,"CA_05":-75,"CA_06":40,"CA_07":120,"CA_08":-140,"CA_09":-315,"CA_10":-280,"CA_11":-245,"CA_12":50},
{"t":14.7,"CA_01":-350,"CA_02":-315,"CA_03":-280,"CA_04":-210,"CA_05":-175,"CA_06":-60,"CA_07":30,"CA_08":-176,"CA_09":-396,"CA_10":-352,"CA_11":-308,"CA_12":-75},
{"t":14.8,"CA_01":-440,"CA_02":-396,"CA_03":-352,"CA_04":-264,"CA_05":-220,"CA_06":-140,"CA_07":-45,"CA_08":-120,"CA_09":-270,"CA_10":-240,"CA_11":-210,"CA_12":-175},
{"t":14.9,"CA_01":-300,"CA_02":-270,"CA_03":-240,"CA_04":-180,"CA_05":-150,"CA_06":-176,"CA_07":-105,"CA_08":-20,"CA_09":-45,"CA_10":-40,"CA_11":-35,"CA_12":-220},
{"t":15,"CA_01":-50,"CA_02":-45,"CA_03":-40,"CA_04":-30,"CA_05":-25,"CA_06":-120,"CA_07":-132,"CA_08":40,"CA_09":90,"CA_10":80,"CA_11":70,"CA_12":-150},
{"t":15.1,"CA_01":100,"CA_02":90,"CA_03":80,"CA_04":60,"CA_05":50,"CA_06":-20,"CA_07":-90,"CA_08":60,"CA_09":135,"CA_10":120,"CA_11":105,"CA_12":-25},
{"t":15.2,"CA_01":150,"CA_02":135,"CA_03":120,"CA_04":90,"CA_05":75,"CA_06":40,"CA_07":-15,"CA_08":40,"CA_09":90,"CA_10":80,"CA_11":70,"CA_12":50},
{"t":15.3,"CA_01":100,"CA_02":90,"CA_03":80,"CA_04":60,"CA_05":50,"CA_06":60,"CA_07":30,"CA_08":60,"CA_09":135,"CA_10":120,"CA_11":105,"CA_12":75},
{"t":15.4,"CA_01":150,"CA_02":135,"CA_03":120,"CA_04":90,"CA_05":75,"CA_06":40,"CA_07":45,"CA_08":78,"CA_09":176,"CA_10":156,"CA_11":137,"CA_12":50},
{"t":15.5,"CA_01":195,"CA_02":176,"CA_03":156,"CA_04":117,"CA_05":98,"CA_06":60,"CA_07":30,"CA_08":20,"CA_09":45,"CA_10":40,"CA_11":35,"CA_12":75},
{"t":15.6,"CA_01":50,"CA_02":45,"CA_03":40,"CA_04":30,"CA_05":25,"CA_06":78,"CA_07":45,"CA_08":-60,"CA_09":-135,"CA_10":-120,"CA_11":-105,"CA_12":98},
{"t":15.7,"CA_01":-150,"CA_02":-135,"CA_03":-120,"CA_04":-90,"CA_05":-75,"CA_06":20,"CA_07":59,"CA_08":-120,"CA_09":-270,"CA_10":-240,"CA_11":-210,"CA_12":25},
{"t":15.8,"CA_01":-300,"CA_02":-270,"CA_03":-240,"CA_04":-180,"CA_05":-150,"CA_06":-60,"CA_07":15,"CA_08":-152,"CA_09":-342,"CA_10":-304,"CA_11":-266,"CA_12":-75},
{"t":15.9,"CA_01":-380,"CA_02":-342,"CA_03":-304,"CA_04":-228,"CA_05":-190,"CA_06":-120,"CA_07":-45,"CA_08":-80,"CA_09":-180,"CA_10":-160,"CA_11":-140,"CA_12":-150},
{"t":16,"CA_01":-200,"CA_02":-180,"CA_03":-160,"CA_04":-120,"CA_05":-100,"CA_06":-152,"CA_07":-90,"CA_08":40,"CA_09":90,"CA_10":80,"CA_11":70,"CA_12":-190},
{"t":16.1,"CA_01":100,"CA_02":90,"CA_03":80,"CA_04":60,"CA_05":50,"CA_06":-80,"CA_07":-114,"CA_08":140,"CA_09":315,"CA_10":280,"CA_11":245,"CA_12":-100},
{"t":16.2,"CA_01":350,"CA_02":315,"CA_03":280,"CA_04":210,"CA_05":175,"CA_06":40,"CA_07":-60,"CA_08":164,"CA_09":369,"CA_10":328,"CA_11":287,"CA_12":50},
{"t":16.3,"CA_01":410,"CA_02":369,"CA_03":328,"CA_04":246,"CA_05":205,"CA_06":140,"CA_07":30,"CA_08":100,"CA_09":225,"CA_10":200,"CA_11":175,"CA_12":175},
{"t":16.4,"CA_01":250,"CA_02":225,"CA_03":200,"CA_04":150,"CA_05":125,"CA_06":164,"CA_07":105,"CA_08":20,"CA_09":45,"CA_10":40,"CA_11":35,"CA_12":205},
{"t":16.5,"CA_01":50,"CA_02":45,"CA_03":40,"CA_04":30,"CA_05":25,"CA_06":100,"CA_07":123,"CA_08":-20,"CA_09":-45,"CA_10":-40,"CA_11":-35,"CA_12":125},
{"t":16.6,"CA_01":-50,"CA_02":-45,"CA_03":-40,"CA_04":-30,"CA_05":-25,"CA_06":20,"CA_07":75,"CA_08":-40,"CA_09":-90,"CA_10":-80,"CA_11":-70,"CA_12":25},
{"t":16.7,"CA_01":-100,"CA_02":-90,"CA_03":-80,"CA_04":-60,"CA_05":-50,"CA_06":-20,"CA_07":15,"CA_08":-52,"CA_09":-117,"CA_10":-104,"CA_11":-91,"CA_12":-25},
{"t":16.8,"CA_01":-130,"CA_02":-117,"CA_03":-104,"CA_04":-78,"CA_05":-65,"CA_06":-40,"CA_07":-15,"CA_08":-60,"CA_09":-135,"CA_10":-120,"CA_11":-105,"CA_12":-50},
{"t":16.9,"CA_01":-150,"CA_02":-135,"CA_03":-120,"CA_04":-90,"CA_05":-75,"CA_06":-52,"CA_07":-30,"CA_08":-40,"CA_09":-90,"CA_10":-80,"CA_11":-70,"CA_12":-65},
{"t":17,"CA_01":-100,"CA_02":-90,"CA_03":-80,"CA_04":-60,"CA_05":-50,"CA_06":-60,"CA_07":-39,"CA_08":20,"CA_09":45,"CA_10":40,"CA_11":35,"CA_12":-75},
{"t":17.1,"CA_01":50,"CA_02":45,"CA_03":40,"CA_04":30,"CA_05":25,"CA_06":-40,"CA_07":-45,"CA_08":80,"CA_09":180,"CA_10":160,"CA_11":140,"CA_12":-50},
{"t":17.2,"CA_01":200,"CA_02":180,"CA_03":160,"CA_04":120,"CA_05":100,"CA_06":20,"CA_07":-30,"CA_08":140,"CA_09":315,"CA_10":280,"CA_11":245,"CA_12":25},
{"t":17.3,"CA_01":350,"CA_02":315,"CA_03":280,"CA_04":210,"CA_05":175,"CA_06":80,"CA_07":15,"CA_08":160,"CA_09":360,"CA_10":320,"CA_11":280,"CA_12":100},
{"t":17.4,"CA_01":400,"CA_02":360,"CA_03":320,"CA_04":240,"CA_05":200,"CA_06":140,"CA_07":60,"CA_08":100,"CA_09":225,"CA_10":200,"CA_11":175,"CA_12":175},
{"t":17.5,"CA_01":250,"CA_02":225,"CA_03":200,"CA_04":150,"CA_05":125,"CA_06":160,"CA_07":105,"CA_08":20,"CA_09":45,"CA_10":40,"CA_11":35,"CA_12":200},
{"t":17.6,"CA_01":50,"CA_02":45,"CA_03":40,"CA_04":30,"CA_05":25,"CA_06":100,"CA_07":120,"CA_08":-80,"CA_09":-180,"CA_10":-160,"CA_11":-140,"CA_12":125},
{"t":17.7,"CA_01":-200,"CA_02":-180,"CA_03":-160,"CA_04":-120,"CA_05":-100,"CA_06":20,"CA_07":75,"CA_08":-108,"CA_09":-243,"CA_10":-216,"CA_11":-189,"CA_12":25},
{"t":17.8,"CA_01":-270,"CA_02":-243,"CA_03":-216,"CA_04":-162,"CA_05":-135,"CA_06":-80,"CA_07":15,"CA_08":-60,"CA_09":-135,"CA_10":-120,"CA_11":-105,"CA_12":-100},
{"t":17.9,"CA_01":-150,"CA_02":-135,"CA_03":-120,"CA_04":-90,"CA_05":-75,"CA_06":-108,"CA_07":-60,"CA_08":20,"CA_09":45,"CA_10":40,"CA_11":35,"CA_12":-135},
{"t":18,"CA_01":50,"CA_02":45,"CA_03":40,"CA_04":30,"CA_05":25,"CA_06":-60,"CA_07":-81,"CA_08":88,"CA_09":198,"CA_10":176,"CA_11":154,"CA_12":-75},
{"t":18.1,"CA_01":220,"CA_02":198,"CA_03":176,"CA_04":132,"CA_05":110,"CA_06":20,"CA_07":-45,"CA_08":108,"CA_09":243,"CA_10":216,"CA_11":189,"CA_12":25},
{"t":18.2,"CA_01":270,"CA_02":243,"CA_03":216,"CA_04":162,"CA_05":135,"CA_06":88,"CA_07":15,"CA_08":60,"CA_09":135,"CA_10":120,"CA_11":105,"CA_12":110},
{"t":18.3,"CA_01":150,"CA_02":135,"CA_03":120,"CA_04":90,"CA_05":75,"CA_06":108,"CA_07":66,"CA_08":-20,"CA_09":-45,"CA_10":-40,"CA_11":-35,"CA_12":135},
{"t":18.4,"CA_01":-50,"CA_02":-45,"CA_03":-40,"CA_04":-30,"CA_05":-25,"CA_06":60,"CA_07":81,"CA_08":-80,"CA_09":-180,"CA_10":-160,"CA_11":-140,"CA_12":75},
{"t":18.5,"CA_01":-200,"CA_02":-180,"CA_03":-160,"CA_04":-120,"CA_05":-100,"CA_06":-20,"CA_07":45,"CA_08":-92,"CA_09":-207,"CA_10":-184,"CA_11":-161,"CA_12":-25},
{"t":18.6,"CA_01":-230,"CA_02":-207,"CA_03":-184,"CA_04":-138,"CA_05":-115,"CA_06":-80,"CA_07":-15,"CA_08":-20,"CA_09":-45,"CA_10":-40,"CA_11":-35,"CA_12":-100},
{"t":18.7,"CA_01":-50,"CA_02":-45,"CA_03":-40,"CA_04":-30,"CA_05":-25,"CA_06":-92,"CA_07":-60,"CA_08":-80,"CA_09":-180,"CA_10":-160,"CA_11":-140,"CA_12":-115},
{"t":18.8,"CA_01":-200,"CA_02":-180,"CA_03":-160,"CA_04":-120,"CA_05":-100,"CA_06":-20,"CA_07":-69,"CA_08":-96,"CA_09":-216,"CA_10":-192,"CA_11":-168,"CA_12":-25},
{"t":18.9,"CA_01":-240,"CA_02":-216,"CA_03":-192,"CA_04":-144,"CA_05":-120,"CA_06":-80,"CA_07":-15,"CA_08":-20,"CA_09":-45,"CA_10":-40,"CA_11":-35,"CA_12":-100},
{"t":19,"CA_01":-50,"CA_02":-45,"CA_03":-40,"CA_04":-30,"CA_05":-25,"CA_06":-96,"CA_07":-60,"CA_08":60,"CA_09":135,"CA_10":120,"CA_11":105,"CA_12":-120},
{"t":19.1,"CA_01":150,"CA_02":135,"CA_03":120,"CA_04":90,"CA_05":75,"CA_06":-20,"CA_07":-72,"CA_08":74,"CA_09":167,"CA_10":148,"CA_11":130,"CA_12":-25},
{"t":19.2,"CA_01":185,"CA_02":167,"CA_03":148,"CA_04":111,"CA_05":93,"CA_06":60,"CA_07":-15,"CA_08":20,"CA_09":45,"CA_10":40,"CA_11":35,"CA_12":75},
{"t":19.3,"CA_01":50,"CA_02":45,"CA_03":40,"CA_04":30,"CA_05":25,"CA_06":74,"CA_07":45,"CA_08":-40,"CA_09":-90,"CA_10":-80,"CA_11":-70,"CA_12":93},
{"t":19.4,"CA_01":-100,"CA_02":-90,"CA_03":-80,"CA_04":-60,"CA_05":-50,"CA_06":20,"CA_07":56,"CA_08":-52,"CA_09":-117,"CA_10":-104,"CA_11":-91,"CA_12":25},
{"t":19.5,"CA_01":-130,"CA_02":-117,"CA_03":-104,"CA_04":-78,"CA_05":-65,"CA_06":-40,"CA_07":15,"CA_08":-8,"CA_09":-18,"CA_10":-16,"CA_11":-14,"CA_12":-50},
{"t":19.6,"CA_01":-20,"CA_02":-18,"CA_03":-16,"CA_04":-12,"CA_05":-10,"CA_06":-52,"CA_07":-30,"CA_08":-40,"CA_09":-90,"CA_10":-80,"CA_11":-70,"CA_12":-65},
{"t":19.7,"CA_01":-100,"CA_02":-90,"CA_03":-80,"CA_04":-60,"CA_05":-50,"CA_06":-8,"CA_07":-39,"CA_08":-72,"CA_09":-162,"CA_10":-144,"CA_11":-126,"CA_12":-10},
{"t":19.8,"CA_01":-180,"CA_02":-162,"CA_03":-144,"CA_04":-108,"CA_05":-90,"CA_06":-40,"CA_07":-6,"CA_08":24,"CA_09":54,"CA_10":48,"CA_11":42,"CA_12":-50},
{"t":19.9,"CA_01":60,"CA_02":54,"CA_03":48,"CA_04":36,"CA_05":30,"CA_06":-72,"CA_07":-30,"CA_08":12,"CA_09":27,"CA_10":24,"CA_11":21,"CA_12":-90},
{"t":20,"CA_01":30,"CA_02":27,"CA_03":24,"CA_04":18,"CA_05":15,"CA_06":24,"CA_07":-54,"CA_08":12,"CA_09":27,"CA_10":24,"CA_11":21,"CA_12":30}
]},
"transform":[{"fold":["CA_01","CA_02","CA_03","CA_04","CA_05","CA_06","CA_07","CA_08","CA_09","CA_10","CA_11","CA_12"],"as":["series","value"]}],
"mark":{"type":"line","strokeWidth":2.4,"interpolate":"monotone"},
"encoding":{
"x":{"field":"t","type":"quantitative","scale":{"domain":[0,20],"nice":false},
"axis":{"values":[0,2,4,6,8,10,12,14,16,18,20],"labelExpr":"''+datum.value","grid":false,"title":"Time (sec)","domainColor":"#000","domainWidth":1.5,"tickColor":"#000","tickWidth":1.5,"tickSize":-9,"labelPadding":42,"labelFont":"Lato","labelFontSize":29,"labelFontWeight":"bold","labelColor":"#000","labelFlush":false,"labelOverlap":false,"titleFont":"Lato","titleFontSize":31,"titleFontWeight":"bold","titleColor":"#000","titleX":674.5,"titleY":83,"titleBaseline":"middle","titleAlign":"center"}},
"y":{"field":"value","type":"quantitative","scale":{"domain":[-1000,1000],"nice":false},
"axis":{"values":[-1000,-500,0,500,1000],"labelExpr":"''+datum.value","grid":false,"title":"Tension (kN)","domainColor":"#000","domainWidth":1.5,"tickColor":"#000","tickWidth":1.5,"tickSize":-9,"labelPadding":42,"labelFont":"Lato","labelFontSize":29,"labelFontWeight":"bold","labelColor":"#000","labelFlush":false,"labelOverlap":false,"titleFont":"Lato","titleFontSize":31,"titleFontWeight":"bold","titleColor":"#000","titleX":-126,"titleY":128,"titleBaseline":"middle","titleAlign":"center","titleAngle":-90}},
"color":{"field":"series","type":"nominal",
"scale":{"domain":["CA_01","CA_02","CA_03","CA_04","CA_05","CA_06","CA_07","CA_08","CA_09","CA_10","CA_11","CA_12"],"range":["#0070C0","#A5A5A5","#14206A","#66B032","#5B9BD5","#FFC000","#843C0C","#1F6FCF","#A5A5A5","#1F2A60","#5FAE2A","#C55A11"]},
"legend":{"orient":"none","legendX":60,"legendY":-73,"direction":"horizontal","columns":6,"title":null,"symbolType":"stroke","symbolSize":4356,"symbolStrokeWidth":2.5,"labelFont":"Lato","labelFontSize":29,"labelFontWeight":"bold","labelColor":"#000","labelOffset":4,"columnPadding":53,"rowPadding":4,"padding":0,"gridAlign":"all"}},
"strokeDash":{"field":"series","type":"nominal",
"scale":{"domain":["CA_01","CA_02","CA_03","CA_04","CA_05","CA_06","CA_07","CA_08","CA_09","CA_10","CA_11","CA_12"],"range":[[1,0],[1,0],[1,0],[1,0],[1,0],[1,0],[6,3],[6,3],[6,3],[6,3],[6,3],[6,3]]}}
}
}
